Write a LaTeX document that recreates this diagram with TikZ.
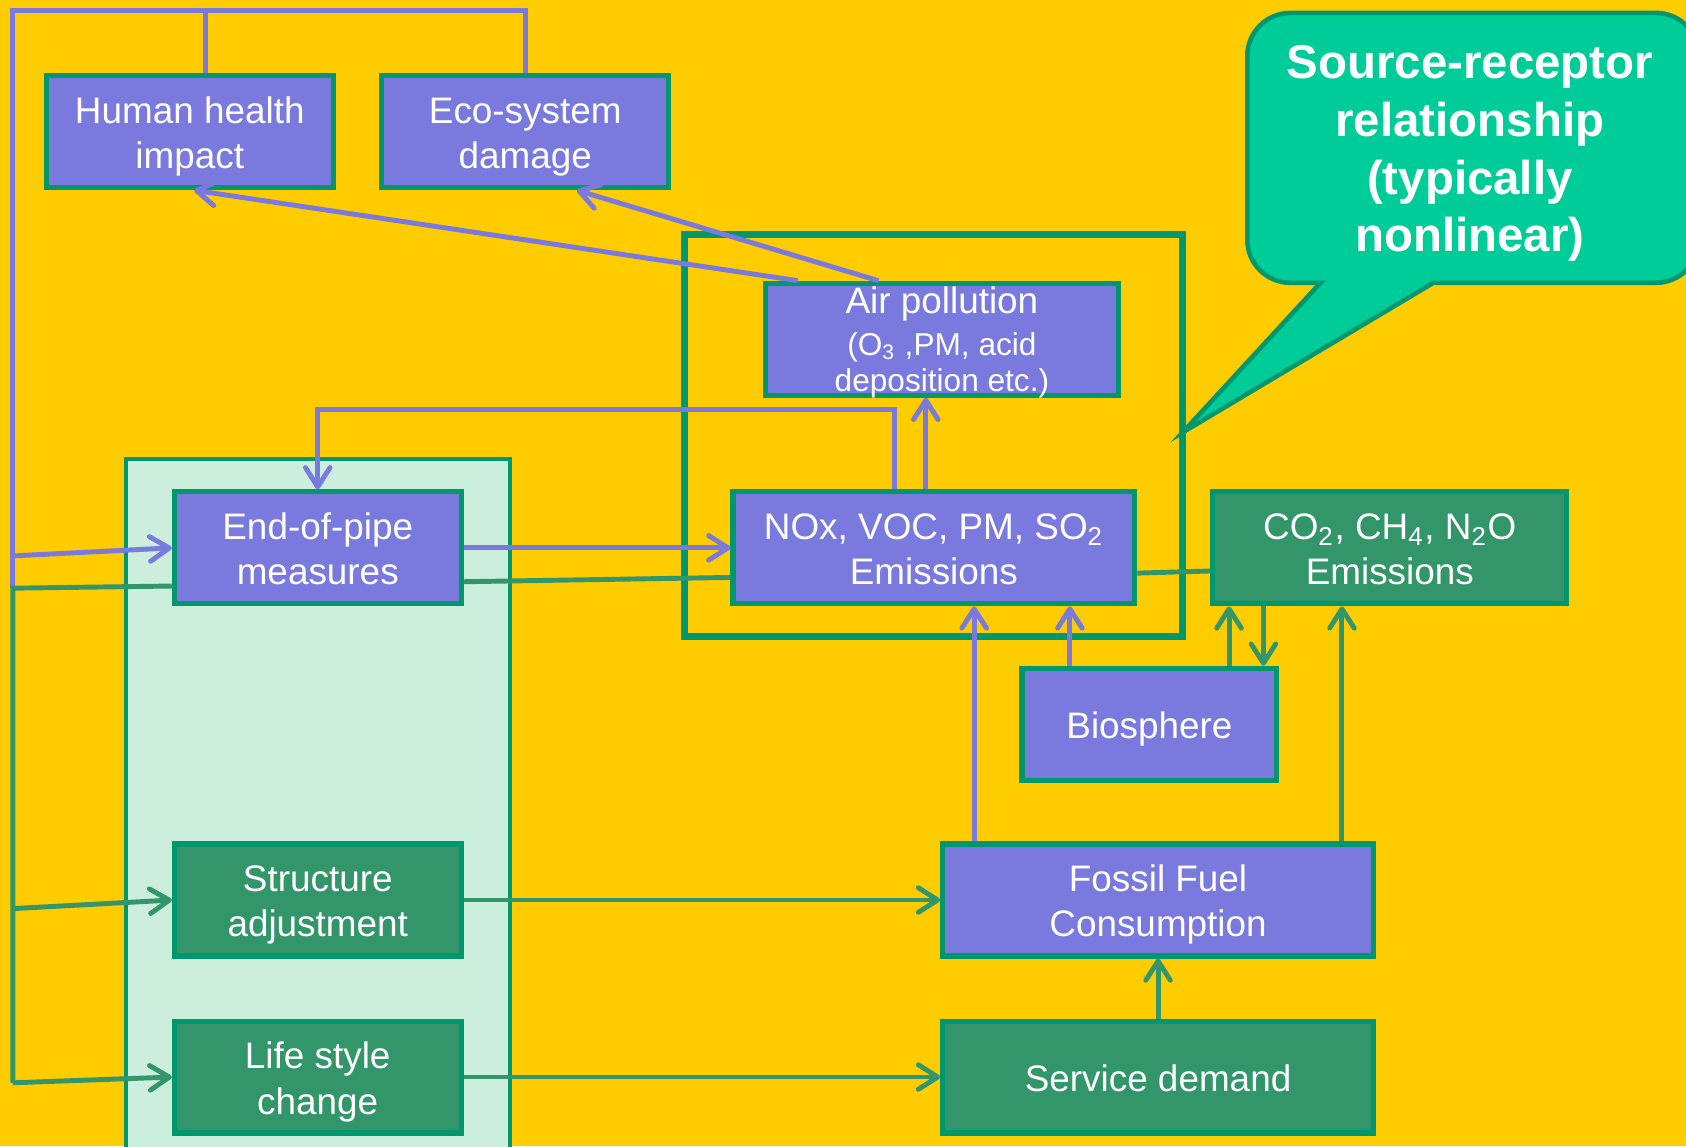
\documentclass[tikz,border=0pt]{standalone}
\usepackage{fontspec}
\setmainfont{Liberation Sans}
\usepackage{xcolor}
\usetikzlibrary{arrows.meta, positioning, calc}
\definecolor{bgyellow}{RGB}{255,204,0}
\definecolor{lilac}{RGB}{121,121,222}
\definecolor{edgegreen}{RGB}{0,150,110}
\definecolor{leafgreen}{RGB}{51,150,107}
\definecolor{mint}{RGB}{204,238,221}
\definecolor{bubble}{RGB}{0,204,153}
\newcommand{\smalltxt}{\fontsize{9}{10.4}\selectfont}

\begin{document}
\begin{tikzpicture}[
  x=0.010753cm, y=-0.010753cm,
  box/.style={rectangle, draw=edgegreen, line width=1.45pt, minimum height=1.12cm,
              inner sep=0pt, align=center, text=white,
              font=\fontsize{10.5}{12.85}\selectfont,
              text height=23.85pt, text depth=2.8pt},
  oneline/.style={text height=11pt},
  pbox/.style={box, fill=lilac},
  gbox/.style={box, fill=leafgreen},
  pline/.style={draw=lilac, line width=1.4pt},
  gline/.style={draw=leafgreen, line width=1.4pt},
  parr/.style={pline, -{Straight Barb[length=5.5pt,width=7pt,round]}},
  garr/.style={gline, -{Straight Barb[length=5.5pt,width=7pt,round]}},
  node distance=0.6cm and 0.435cm
]
  \useasboundingbox (0,0) rectangle (1568,1066);
  \fill[bgyellow] (0,0) rectangle (1568,1066);

  % measures panel and source-receptor frame
  \draw[fill=mint, draw=edgegreen, line width=1.1pt] (117,427) rectangle (474,1085);
  \draw[draw=edgegreen, line width=2pt] (637,218) rectangle (1100,592);

  % call-out
  \draw[fill=bubble, draw=edgegreen, line width=1.3pt]
    (1333,263) [rounded corners=0.43cm] -- (1580,263) -- (1580,12) -- (1160,12)
    -- (1160,263) [sharp corners] -- (1228,263) -- (1100,402) -- cycle;
  \node[text=white, align=center, font=\bfseries\fontsize{13.5}{16.4}\selectfont]
    (srtxt) at (1367,143) {Source-receptor\\relationship\\(typically\\nonlinear)};

  % boxes
  \node[pbox, minimum width=2.87cm] (hum) at (176.5,122.5) {Human health\\impact};
  \node[pbox, minimum width=2.87cm, right=of hum] (eco) {Eco-system\\damage};
  \node[pbox, minimum width=3.53cm, text height=30.9pt, text depth=0.9pt] (air) at (876,315.5)
    {Air pollution\\[-0.95pt]\smalltxt (O\textsubscript{3} ,PM, acid\\[-2.45pt]\smalltxt deposition etc.)};
  \node[pbox, minimum width=4.02cm] (nox) at (868.5,509.5) {NOx, VOC, PM, SO\textsubscript{2}\\Emissions};
  \node[gbox, minimum width=3.54cm] (ghg) at (1292.5,509.5)
    {CO\textsubscript{2}, CH\textsubscript{4}, N\textsubscript{2}O\\Emissions};
  \node[pbox, minimum width=2.87cm] (eop) at (295.5,509.5) {End-of-pipe\\measures};
  \node[gbox, minimum width=2.87cm] (struct) at (295.5,837) {Structure\\adjustment};
  \node[gbox, minimum width=2.87cm, below=of struct] (life) {Life style\\change};
  \node[pbox, oneline, minimum width=2.55cm] (bio) at (1069,673.5) {Biosphere};
  \node[pbox, minimum width=4.31cm] (fossil) at (1077,837) {Fossil Fuel\\Consumption};
  \node[gbox, oneline, minimum width=4.31cm, below=of fossil] (demand) {Service demand};

  % left bus
  \coordinate (busTop)  at (12,10);
  \coordinate (busEoP)  at (12,517);
  \coordinate (busMid)  at (12,547);
  \coordinate (busStr)  at (12,845);
  \coordinate (busLife) at (12,1007);

  \draw[pline] (eco.north) |- (busTop) -- (busMid);
  \draw[pline] ($(hum.north)+(14.5,0)$) |- (busTop);
  \draw[parr] (busEoP) -- (eop.west);
  \draw[gline] ($(ghg.west)+(0,21.5)$) -- ($(nox.east)+(0,23.5)$);
  \draw[gline] ($(nox.west)+(0,27.5)$) -- ($(eop.east)+(0,31.5)$);
  \draw[gline] ($(eop.west)+(0,35.5)$) -- (busMid) -- (busLife);
  \draw[garr] (busStr) -- (struct.west);
  \draw[garr] (busLife) -- (life.west);

  % impacts
  \coordinate (a1) at ($(air.north)+(-134,0)$);
  \coordinate (a2) at ($(air.north)+(-59,0)$);
  \draw[parr] (a1) -- ($(hum.south)+(4,0)$);
  \draw[parr] (a2) -- ($(eco.south)+(48,0)$);

  % emissions
  \coordinate (n1) at ($(nox.north)+(-7.5,0)$);
  \coordinate (n2) at ($(nox.north)+(-36.5,0)$);
  \draw[parr] (n1) -- (n1 |- air.south);
  \draw[parr] (n2) -- ++(0,-74) -| (eop.north);
  \draw[parr] (eop.east) -- (nox.west);

  \coordinate (f1) at ($(fossil.north)+(-171,0)$);
  \coordinate (f2) at ($(fossil.north)+(171,0)$);
  \coordinate (b1) at ($(bio.north)+(-74,0)$);
  \coordinate (b2) at ($(bio.north)+(74,0)$);
  \coordinate (b3) at ($(bio.north)+(106,0)$);
  \draw[parr] (f1) -- (f1 |- nox.south);
  \draw[parr] (b1) -- (b1 |- nox.south);
  \draw[garr] (b2) -- (b2 |- ghg.south);
  \draw[garr] (b3 |- ghg.south) -- (b3);
  \draw[garr] (f2) -- (f2 |- ghg.south);

  % activities
  \draw[garr] (struct.east) -- (fossil.west);
  \draw[garr] (life.east) -- (demand.west);
  \draw[garr] (demand.north) -- (fossil.south);
\end{tikzpicture}
\end{document}
